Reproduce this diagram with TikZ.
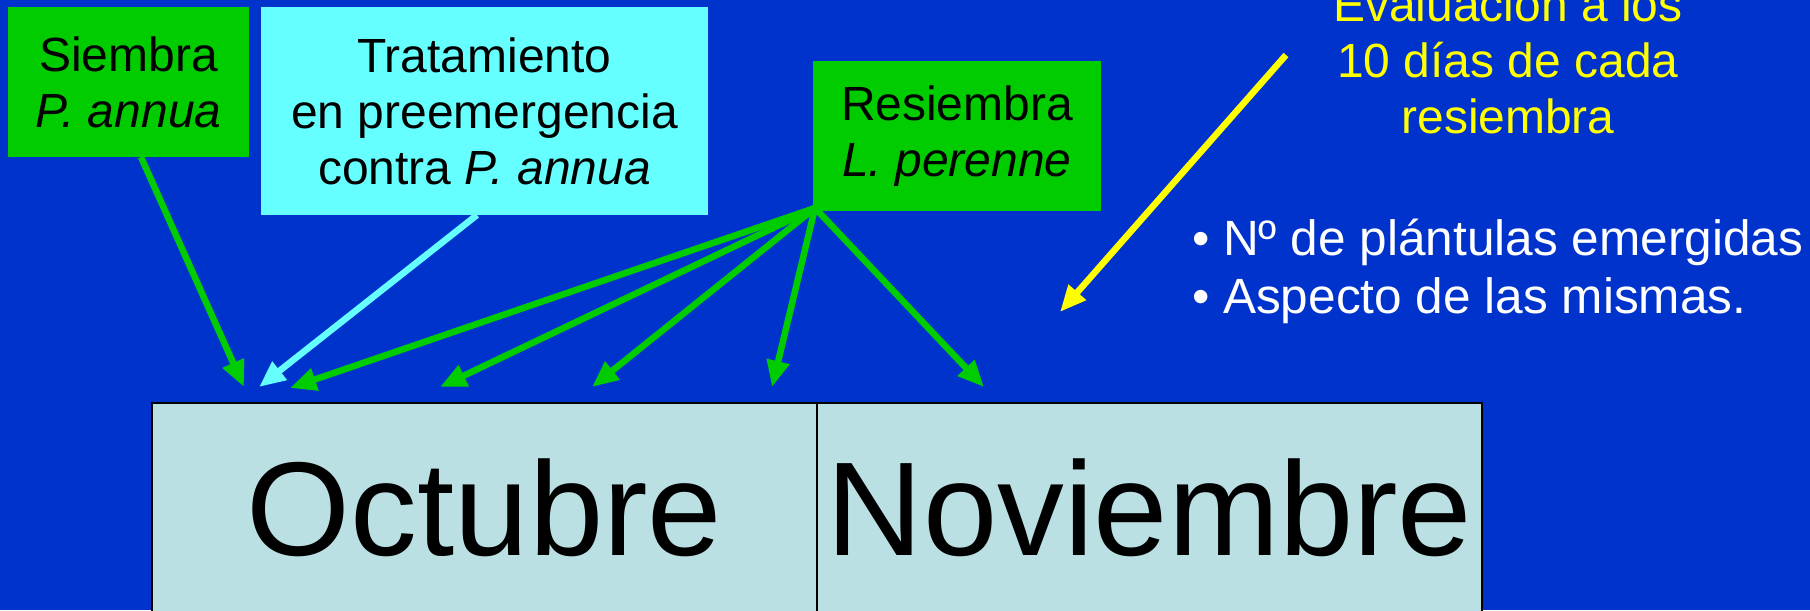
\documentclass[tikz,border=0pt]{standalone}
\usepackage{fontspec}
\setmainfont{Liberation Sans}
\usepackage{xcolor}
\usepackage{tikz}
\usetikzlibrary{positioning,arrows.meta}
\definecolor{slideblue}{HTML}{0033CC}
\definecolor{slidegreen}{HTML}{00CC00}
\definecolor{slidecyan}{HTML}{66FFFF}
\definecolor{slideyellow}{HTML}{FFFF00}
\definecolor{monthblue}{HTML}{BBE0E3}

\begin{document}
\begin{tikzpicture}[
        every node/.style={font=\fontsize{27.3}{31.9}\selectfont, inner sep=0pt, outer sep=0pt},
        block/.style={rectangle, minimum height=3cm, align=center},
        bullet/.style={anchor=base west, text=white, font=\fontsize{28.2}{33}\selectfont},
        month/.style={rectangle, draw=black, line width=1pt, fill=monthblue, minimum width=13.3cm, minimum height=4.18cm, font=\fontsize{76}{80}\selectfont},
        line/.style={-{Triangle[length=15pt,width=12.5pt]}, line width=3.7pt, slidegreen}
    ]

        % Background
        \fill[slideblue] (0,0) rectangle (36.2,12.2);
        \useasboundingbox (0,0) rectangle (36.2,12.2);

        % Sowing and treatment
        \node[block, fill=slidegreen, minimum width=4.82cm] (siembra) at (2.57,10.56) {Siembra\\\textit{P. annua}};
        \node[block, fill=slidecyan, minimum width=8.94cm, minimum height=4.16cm, right=0.24cm of siembra.north east, anchor=north west] (tratamiento) {Tratamiento\\en preemergencia\\contra \textit{P. annua}};
        \node[block, fill=slidegreen, minimum width=5.76cm, below right=1.08cm and 2.1cm of tratamiento.north east, anchor=north west] (resiembra) {Resiembra\\\textit{L. perenne}};

        % Evaluation
        \node[align=center, text=slideyellow] (evaluacion) at (30.16,11.0) {Evaluación a los\\10 días de cada\\resiembra};
        \node[bullet] (plantulas) at (23.84,7.1) {• Nº de plántulas emergidas};
        \node[bullet] (aspecto) at ([yshift=-1.16cm]plantulas.base west) {• Aspecto de las mismas.};

        % Months
        \node[month] (octubre) at (9.69,2.05) {Octubre};
        \node[month, right=0pt of octubre] (noviembre) {Noviembre};

        % Arrow ends above the months
        \coordinate (tipS) at (4.88,4.46);
        \coordinate (tipT) at (5.18,4.46);
        \coordinate (tipA) at (5.8,4.44);
        \coordinate (tipB) at (8.8,4.46);
        \coordinate (tipC) at (11.84,4.46);
        \coordinate (tipD) at (15.44,4.46);
        \coordinate (tipE) at (19.68,4.46);
        \coordinate (fan) at ([shift={(0.04,0.06)}]resiembra.south west);
        \coordinate (evalfrom) at (25.72,11.1);
        \coordinate (evalto) at (21.2,5.96);

        % Arrows
        \draw[line] ([xshift=0.25cm]siembra.south) -- (tipS);
        \draw[line, slidecyan] ([xshift=-0.15cm]tratamiento.south) -- (tipT);
        \draw[line] (fan) -- (tipA);
        \draw[line] (fan) -- (tipB);
        \draw[line] (fan) -- (tipC);
        \draw[line] (fan) -- (tipD);
        \draw[line] (fan) -- (tipE);
        \draw[line, slideyellow] (evalfrom) -- (evalto);

    \end{tikzpicture}
\end{document}
